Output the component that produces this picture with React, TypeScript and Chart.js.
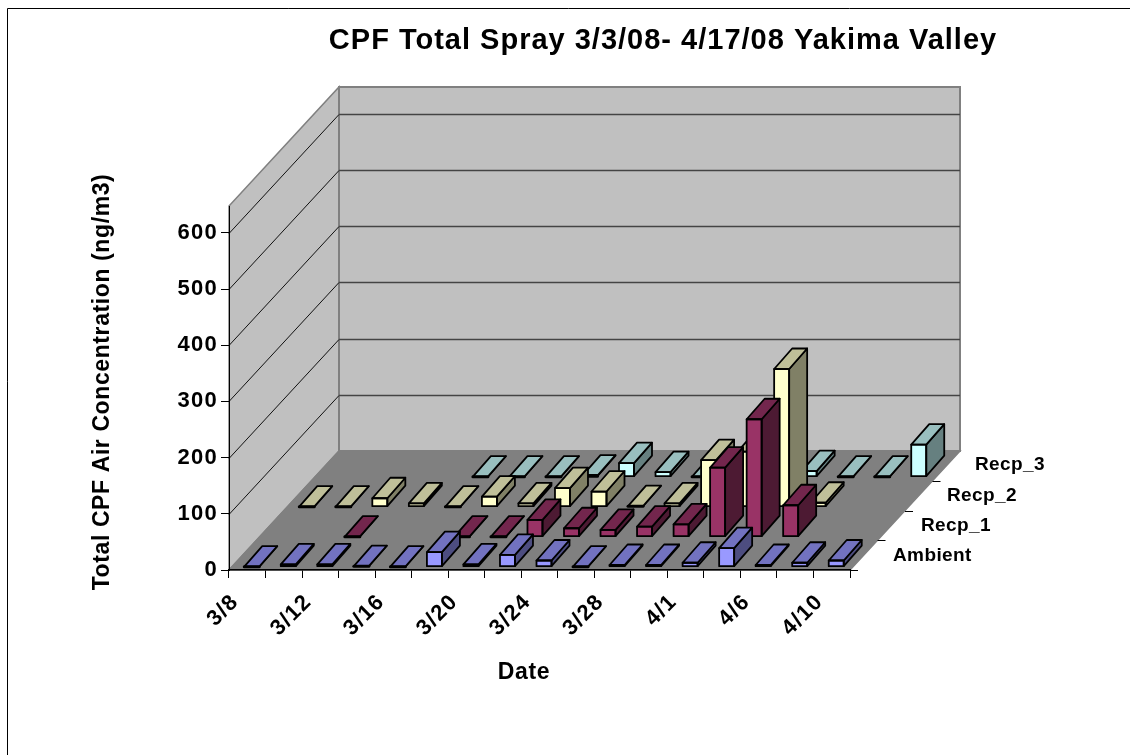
import React, { useEffect, useRef } from "react";
import { Chart, registerables } from "chart.js";

Chart.register(...registerables);

const categories = ["3/8", "3/10", "3/12", "3/14", "3/16", "3/18", "3/20", "3/22", "3/24", "3/26", "3/28", "3/30", "4/1", "4/3", "4/6", "4/8", "4/10"];
const shownLabels = ["3/8", "3/12", "3/16", "3/20", "3/24", "3/28", "4/1", "4/6", "4/10"];
const ambient = [0, 4, 4, 1, 0, 26, 4, 21, 11, 0, 3, 3, 7, 33, 3, 7, 11];
const recp1 = [null, null, 0, null, null, 0, 0, 30, 15, 12, 18, 22, 123, 209, 56, null, null];
const recp2 = [0, 0, 15, 6, 0, 18, 6, 33, 27, 1, 6, 83, 98, 245, 7, null, null];
const recp3 = [null, null, null, null, 0, 0, 0, 2, 24, 8, 0, 0, 0, 10, 0, 0, 57];
const seriesNames = ["Ambient", "Recp_1", "Recp_2", "Recp_3"];
const titleText = "CPF Total Spray 3/3/08- 4/17/08 Yakima Valley";
const yTitleText = "Total CPF Air Concentration (ng/m3)";
const xTitleText = "Date";

const fronts = ["#9999FF", "#993366", "#FFFFCC", "#CCFFFF"];
const tops = ["#7272C0", "#73264D", "#BFBF99", "#99BFBF"];
const sides = ["#4D4D80", "#4D1A33", "#808066", "#668080"];

const FONT = '"Liberation Sans", Arial, sans-serif';
const DEPTH_X = 110;
const DEPTH_Y = -119;
const ROW_X = 27.5;
const ROW_Y = -30;
const BAR_DX = 18;
const BAR_DY = -20.5;
const LEAD_X = 4.5;
const LEAD_Y = -3.3;

const scene = {
  id: "scene",
  beforeDraw(chart: any) {
    const { ctx, chartArea: a, scales } = chart;
    const { left: l, right: r, top: t, bottom: b } = a;
    ctx.save();
    ctx.fillStyle = "#fff";
    ctx.fillRect(0, 0, chart.width, chart.height);
    ctx.strokeStyle = "#000";
    ctx.lineWidth = 1;
    ctx.beginPath();
    ctx.moveTo(7.5, chart.height);
    ctx.lineTo(7.5, 8.5);
    ctx.lineTo(chart.width, 8.5);
    ctx.stroke();

    const poly = (pts: number[][], fill: string, stroke: string, w = 1.5) => {
      ctx.beginPath();
      pts.forEach((p, i) => (i ? ctx.lineTo(p[0], p[1]) : ctx.moveTo(p[0], p[1])));
      ctx.closePath();
      ctx.fillStyle = fill;
      ctx.fill();
      ctx.strokeStyle = stroke;
      ctx.lineWidth = w;
      ctx.stroke();
    };
    const dx = DEPTH_X, dy = DEPTH_Y;
    poly([[l, b], [l + dx, b + dy], [l + dx, t + dy], [l, t]], "#C0C0C0", "#808080");
    poly([[l + dx, b + dy], [r + dx, b + dy], [r + dx, t + dy], [l + dx, t + dy]], "#C0C0C0", "#808080", 2);
    poly([[l, b], [l + dx, b + dy], [r + dx, b + dy], [r, b]], "#808080", "#808080");

    ctx.lineWidth = 1;
    for (const tick of scales.y.ticks) {
      if (tick.value === 0) continue;
      const y = Math.round(scales.y.getPixelForValue(tick.value)) + 0.5;
      ctx.strokeStyle = "#111";
      ctx.beginPath();
      ctx.moveTo(l, y);
      ctx.lineTo(l + dx, y + dy);
      ctx.stroke();
      ctx.strokeStyle = "#444";
      ctx.lineWidth = 1.5;
      ctx.beginPath();
      ctx.moveTo(l + dx, y + dy);
      ctx.lineTo(r + dx, y + dy);
      ctx.stroke();
      ctx.lineWidth = 1;
    }
    ctx.restore();
    ctx.letterSpacing = "1.3px";
  },
  beforeDatasetDraw(chart: any, args: any) {
    const i = args.index;
    chart.ctx.save();
    chart.ctx.translate(LEAD_X + ROW_X * i, LEAD_Y + ROW_Y * i);
  },
  afterDatasetDraw(chart: any, args: any) {
    const i = args.index;
    const { ctx } = chart;
    const meta = chart.getDatasetMeta(i);
    ctx.strokeStyle = "#000";
    ctx.lineJoin = "round";
    meta.data.forEach((bar: any, k: number) => {
      if (chart.data.datasets[i].data[k] === null) return;
      const { x, y, base, width } = bar.getProps(["x", "y", "base", "width"], true);
      const xl = x - width / 2, xr = x + width / 2;
      const draw = (pts: number[][], fill: string) => {
        ctx.beginPath();
        pts.forEach((p, n) => (n ? ctx.lineTo(p[0], p[1]) : ctx.moveTo(p[0], p[1])));
        ctx.closePath();
        ctx.fillStyle = fill;
        ctx.fill();
        ctx.stroke();
      };
      ctx.lineWidth = 1.8;
      draw([[xr, base], [xr + BAR_DX, base + BAR_DY], [xr + BAR_DX, y + BAR_DY], [xr, y]], sides[i]);
      draw([[xl, y], [xr, y], [xr + BAR_DX, y + BAR_DY], [xl + BAR_DX, y + BAR_DY]], tops[i]);
      // front outline, including the base edge; flat bars read as a heavy base line
      ctx.lineWidth = base - y < 1 ? 3 : 1.8;
      ctx.strokeRect(xl, y, width, base - y);
    });
    ctx.restore();
  },
  afterDraw(chart: any) {
    const { ctx, chartArea: a } = chart;
    ctx.save();
    ctx.fillStyle = "#000";
    ctx.strokeStyle = "#000";
    ctx.lineWidth = 1;
    // depth-axis ticks and labels
    const seriesLabelX = [893, 921, 947, 975];
    const seriesLabelY = [556, 526, 496, 465];
    seriesNames.forEach((name, i) => {
      const x = a.right + (DEPTH_X / 4) * i;
      const y = Math.round(a.bottom + (DEPTH_Y / 4) * i) + 0.5;
      ctx.beginPath();
      ctx.moveTo(x, y);
      ctx.lineTo(x + 8, y);
      ctx.stroke();
      ctx.font = `bold 19px ${FONT}`;
      ctx.textAlign = "left";
      ctx.textBaseline = "middle";
      ctx.letterSpacing = "0.4px";
      ctx.fillText(name, seriesLabelX[i], seriesLabelY[i]);
    });
    ctx.font = `bold 29px ${FONT}`;
    ctx.letterSpacing = "1px";
    ctx.textAlign = "center";
    ctx.fillText(titleText, 663, 41);
    ctx.font = `bold 23px ${FONT}`;
    ctx.letterSpacing = "0.6px";
    ctx.fillText(xTitleText, 524, 673);
    ctx.translate(103, 382);
    ctx.rotate(-Math.PI / 2);
    ctx.fillText(yTitleText, 0, 0);
    ctx.restore();
    ctx.letterSpacing = "0px";
  },
};

export default function App() {
  const ref = useRef<HTMLCanvasElement>(null);
  useEffect(() => {
    const ds = (data: any[], i: number) => ({
      label: seriesNames[i],
      data,
      backgroundColor: fronts[i],
      borderColor: "#000",
      borderWidth: 0,
      barThickness: 15,
      clip: false as any,
    });
    const chart = new Chart(ref.current!, {
      type: "bar",
      data: {
        labels: categories,
        datasets: [ds(ambient, 0), ds(recp1, 1), ds(recp2, 2), ds(recp3, 3)],
      },
      plugins: [scene],
      options: {
        responsive: false,
        animation: false,
        layout: { autoPadding: false, padding: { left: 129, top: 206, right: 280, bottom: 105 } },
        datasets: { bar: { grouped: false } },
        plugins: { legend: { display: false }, tooltip: { enabled: false }, title: { display: false } },
        scales: {
          x: {
            type: "category",
            afterFit: (s: any) => { s.height = 80; },
            offset: true,
            grid: { display: true, offset: true, drawOnChartArea: false, drawTicks: true, tickLength: 8, color: "#000", lineWidth: 1 },
            border: { display: true, color: "#000", width: 1.5 },
            ticks: {
              autoSkip: false,
              maxRotation: 45,
              minRotation: 45,
              padding: 11,
              labelOffset: -12,
              color: "#000",
              font: { family: FONT, weight: "bold", size: 22 },
              callback(this: any, v: any) {
                const lab = this.getLabelForValue(v);
                return shownLabels.includes(lab) ? lab : "";
              },
            },
          },
          y: {
            min: 0,
            max: 647.7,
            afterFit: (s: any) => { s.width = 100; },
            grid: { display: true, drawOnChartArea: false, drawTicks: true, tickLength: 8, color: "#000", lineWidth: 1 },
            border: { display: true, color: "#000", width: 1 },
            ticks: {
              stepSize: 100,
              includeBounds: false,
              padding: 3,
              color: "#000",
              font: { family: FONT, weight: "bold", size: 22 },
            },
          },
        },
      } as any,
    });
    return () => chart.destroy();
  }, []);
  return <canvas ref={ref} width={1130} height={755} style={{ position: "absolute", left: 0, top: 0 }} />;
}
